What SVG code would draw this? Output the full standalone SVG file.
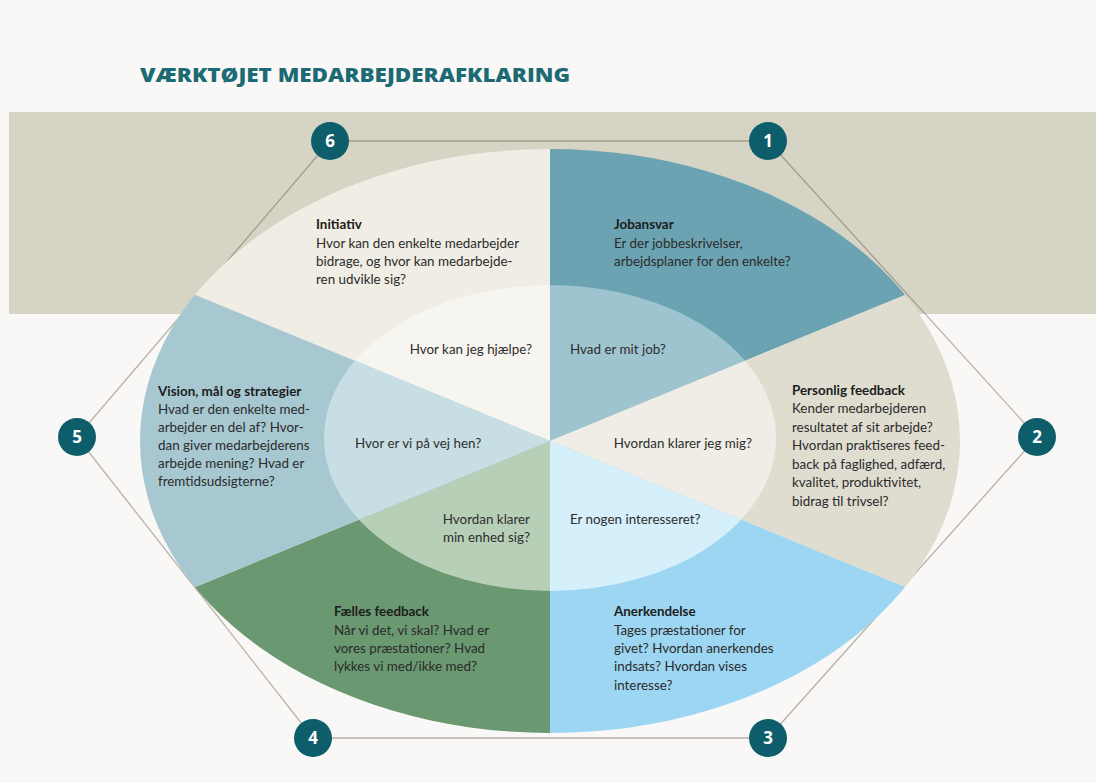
<svg xmlns="http://www.w3.org/2000/svg" width="1096" height="783" viewBox="0 0 1096 783">
<style>
.t{font-family:Lato,"Open Sans","Liberation Sans",sans-serif;font-size:13.4px;fill:#2b2b2b}
.h{font-weight:bold;fill:#1c1c1c}
.q{font-family:Lato,"Open Sans","Liberation Sans",sans-serif;font-size:13.4px;fill:#2e2e2e}
.num{font-family:"Open Sans","Liberation Sans",sans-serif;font-size:17px;font-weight:bold;fill:#ffffff;text-anchor:middle}
.nc{fill:#0e5d6a}
.hex{stroke:#6b5a45;stroke-opacity:0.45;stroke-width:1.3;fill:none}
</style>
<defs>
<clipPath id="w1"><polygon points="550,441 550,-500 2000,-500 2000,-155.3"/></clipPath>
<clipPath id="w2"><polygon points="550,441 2000,-155.3 2000,1037.3"/></clipPath>
<clipPath id="w3"><polygon points="550,441 2000,1037.3 2000,1500 550,1500"/></clipPath>
<clipPath id="w4"><polygon points="550,441 550,1500 -1000,1500 -1000,1078.5"/></clipPath>
<clipPath id="w5"><polygon points="550,441 -1000,1078.5 -1000,-196.5"/></clipPath>
<clipPath id="w6"><polygon points="550,441 -1000,-196.5 -1000,-500 550,-500"/></clipPath>
<ellipse id="outer" cx="550" cy="441" rx="410" ry="292"/>
<ellipse id="inner" cx="550" cy="438" rx="226" ry="153"/>
</defs>
<rect width="1096" height="783" fill="#f9f8f6"/>
<rect x="9" y="112" width="1087" height="202" fill="#d6d4c5"/>
<text x="140" y="82" font-family="'Open Sans','Liberation Sans',sans-serif" font-size="19" font-weight="800" fill="#1b6a74" textLength="430" lengthAdjust="spacingAndGlyphs">VÆRKTØJET MEDARBEJDERAFKLARING</text>
<g id="connectors">
<polygon class="hex" points="330,141 768,141 1037,437 768,738 313,738 77,437"/>
</g>
<g id="seg6">
<use href="#outer" fill="#efede4" clip-path="url(#w6)"/>
<use href="#inner" fill="#f6f5ef" clip-path="url(#w6)"/>
<text class="t h" x="316" y="229">Initiativ</text>
<text class="t" x="316" y="248">Hvor kan den enkelte medarbejder</text>
<text class="t" x="316" y="266">bidrage, og hvor kan medarbejde-</text>
<text class="t" x="316" y="284">ren udvikle sig?</text>
<text class="q" x="532" y="354" text-anchor="end">Hvor kan jeg hjælpe?</text>
</g>
<g id="seg1">
<use href="#outer" fill="#6ba3b2" clip-path="url(#w1)"/>
<use href="#inner" fill="#9ec4cf" clip-path="url(#w1)"/>
<text class="t h" x="614" y="229">Jobansvar</text>
<text class="t" x="614" y="248">Er der jobbeskrivelser,</text>
<text class="t" x="614" y="266">arbejdsplaner for den enkelte?</text>
<text class="q" x="570" y="354">Hvad er mit job?</text>
</g>
<g id="seg2">
<use href="#outer" fill="#dfdcd0" clip-path="url(#w2)"/>
<use href="#inner" fill="#efede5" clip-path="url(#w2)"/>
<text class="t h" x="792" y="395">Personlig feedback</text>
<text class="t" x="792" y="413">Kender medarbejderen</text>
<text class="t" x="792" y="432">resultatet af sit arbejde?</text>
<text class="t" x="792" y="450">Hvordan praktiseres feed-</text>
<text class="t" x="792" y="469">back på faglighed, adfærd,</text>
<text class="t" x="792" y="487">kvalitet, produktivitet,</text>
<text class="t" x="792" y="506">bidrag til trivsel?</text>
<text class="q" x="752" y="448" text-anchor="end">Hvordan klarer jeg mig?</text>
</g>
<g id="seg3">
<use href="#outer" fill="#9dd6f2" clip-path="url(#w3)"/>
<use href="#inner" fill="#d5effb" clip-path="url(#w3)"/>
<text class="t h" x="614" y="616">Anerkendelse</text>
<text class="t" x="614" y="635">Tages præstationer for</text>
<text class="t" x="614" y="653">givet? Hvordan anerkendes</text>
<text class="t" x="614" y="671">indsats? Hvordan vises</text>
<text class="t" x="614" y="690">interesse?</text>
<text class="q" x="570" y="524">Er nogen interesseret?</text>
</g>
<g id="seg4">
<use href="#outer" fill="#6a9870" clip-path="url(#w4)"/>
<use href="#inner" fill="#b8cfb7" clip-path="url(#w4)"/>
<text class="t h" x="334" y="616">Fælles feedback</text>
<text class="t" x="334" y="635">Når vi det, vi skal? Hvad er</text>
<text class="t" x="334" y="653">vores præstationer? Hvad</text>
<text class="t" x="334" y="671">lykkes vi med/ikke med?</text>
<text class="q" x="530" y="524" text-anchor="end">Hvordan klarer</text>
<text class="q" x="530" y="542" text-anchor="end">min enhed sig?</text>
</g>
<g id="seg5">
<use href="#outer" fill="#a7c8d1" clip-path="url(#w5)"/>
<use href="#inner" fill="#c8dee5" clip-path="url(#w5)"/>
<text class="t h" x="158" y="396">Vision, mål og strategier</text>
<text class="t" x="158" y="414">Hvad er den enkelte med-</text>
<text class="t" x="158" y="432">arbejder en del af? Hvor-</text>
<text class="t" x="158" y="450">dan giver medarbejderens</text>
<text class="t" x="158" y="468">arbejde mening? Hvad er</text>
<text class="t" x="158" y="486">fremtidsudsigterne?</text>
<text class="q" x="355" y="448">Hvor er vi på vej hen?</text>
</g>
<g id="n1"><circle class="nc" cx="768" cy="141" r="19"/><text class="num" x="768" y="147">1</text></g>
<g id="n2"><circle class="nc" cx="1037" cy="437" r="19"/><text class="num" x="1037" y="443">2</text></g>
<g id="n3"><circle class="nc" cx="768" cy="738" r="19"/><text class="num" x="768" y="744">3</text></g>
<g id="n4"><circle class="nc" cx="313" cy="738" r="19"/><text class="num" x="313" y="744">4</text></g>
<g id="n5"><circle class="nc" cx="77" cy="437" r="19"/><text class="num" x="77" y="443">5</text></g>
<g id="n6"><circle class="nc" cx="330" cy="141" r="19"/><text class="num" x="330" y="147">6</text></g>
</svg>
